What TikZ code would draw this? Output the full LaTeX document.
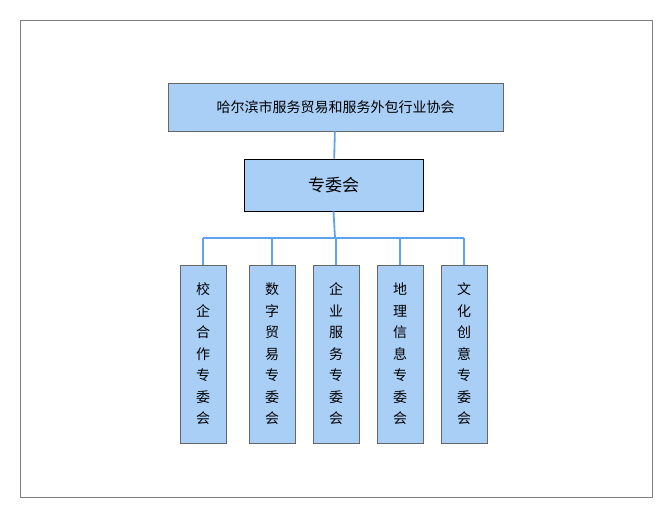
\documentclass[tikz,border=0pt]{standalone}
\usepackage{fontspec}
\newfontfamily\cjk{Noto Sans CJK SC}
\begin{document}
\begin{tikzpicture}[x=1pt,y=1pt,
  box/.style={draw=gray!80!black,fill=boxblue,line width=0.8pt,inner sep=0pt,font=\cjk},
  link/.style={draw=lineblue,line width=1.8pt}]
\definecolor{boxblue}{HTML}{A9CFF7}
\definecolor{lineblue}{HTML}{5FA3EE}
\useasboundingbox (0,0) rectangle (672,519);
\draw[gray,line width=0.8pt] (20,22) rectangle (652,499);
\node[box,minimum width=335,minimum height=48,font=\cjk\fontsize{14}{16}\selectfont] (top) at (335.5,412) {哈尔滨市服务贸易和服务外包行业协会};
\node[box,draw=black,minimum width=179,minimum height=52,font=\cjk\fontsize{17}{20}\selectfont] (mid) at (333.5,334) {专委会};
\draw[link] (top) -- (mid);
\coordinate (br) at (335,281);
\draw[link] (mid.south) -- (br);
\foreach \n/\x/\t in {a/203/{校\\企\\合\\作\\专\\委\\会},b/272/{数\\字\\贸\\易\\专\\委\\会},c/336/{企\\业\\服\\务\\专\\委\\会},d/400/{地\\理\\信\\息\\专\\委\\会},e/464/{文\\化\\创\\意\\专\\委\\会}}{
  \node[box,minimum width=46,minimum height=178,align=center,font=\cjk\fontsize{14}{21.5}\selectfont] (\n) at (\x,165) {\t};
  \draw[link] (\n.north) -- (\x,281);
}
\draw[link] (a.north |- br) -- (e.north |- br);
\end{tikzpicture}
\end{document}
